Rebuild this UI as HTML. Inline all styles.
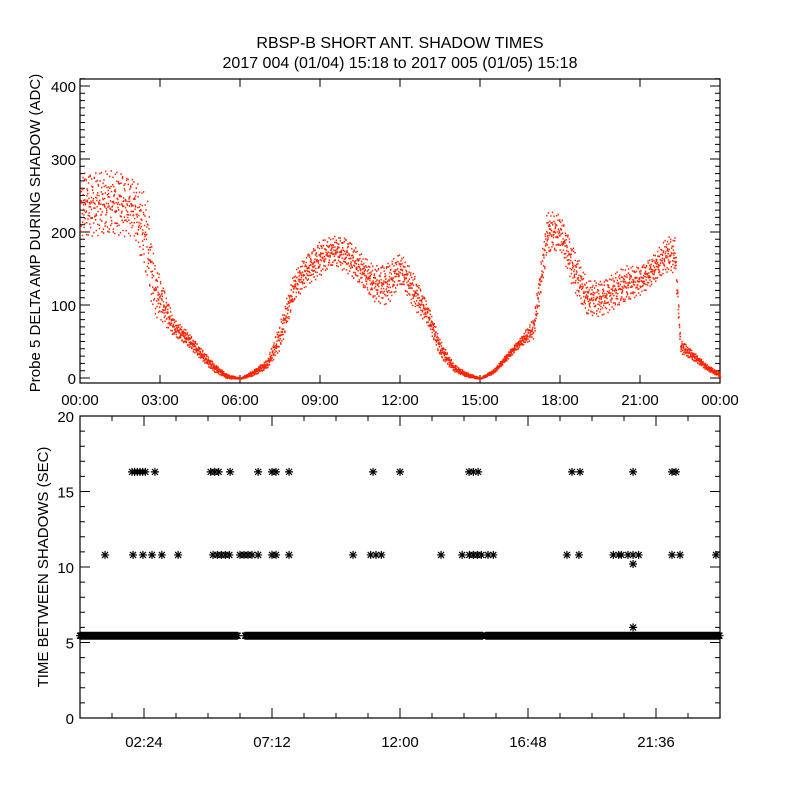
<!DOCTYPE html>
<html><head><meta charset="utf-8">
<style>
html,body{margin:0;padding:0;background:#fff;}
svg{display:block;font-family:"Liberation Sans",sans-serif;}
text{fill:#000;}
</style></head>
<body>
<svg id="chart" width="800" height="800" viewBox="0 0 800 800">
<text x="400" y="48" font-size="16" text-anchor="middle">RBSP-B SHORT ANT. SHADOW TIMES</text>
<text x="400" y="68" font-size="16" text-anchor="middle">2017 004 (01/04) 15:18 to 2017 005 (01/05) 15:18</text>
<g id="topPanel"></g>
<g id="botPanel"></g>
</svg>
<script>
// ---- top panel data (hours, ADC) ----
const ampHours = [0,0.5,1,1.5,2,2.5,2.75,3,3.5,4,4.5,5,5.5,6,6.5,7,7.5,8,8.5,9,9.5,10,10.5,11,11.5,12,12.5,13,13.5,14,14.5,15,15.5,16,16.5,17,17.5,18,18.5,19,19.5,20,20.5,21,21.5,22,22.3,22.5,23,23.5,24];
const ampCenter = [240,240,240,240,235,190,125,110,70,55,35,15,3,0,8,20,60,125,150,165,175,170,150,130,130,150,120,90,40,15,5,0,10,30,50,70,200,200,150,110,110,120,130,135,150,170,170,45,30,15,5];
const ampSpread = [45,45,45,45,40,60,40,30,12,10,8,6,3,1,4,6,20,20,22,25,20,25,22,25,30,22,25,15,12,5,3,1,3,5,6,15,30,25,30,25,25,25,25,20,20,25,25,10,6,4,3];
const amTicks = ["00:00","03:00","06:00","09:00","12:00","15:00","18:00","21:00","00:00"];
const ampYTicks = [0,100,200,300,400];

// ---- bottom panel data (hours, seconds) ----
const row16Hours = [1.95,2.05,2.15,2.25,2.35,2.45,2.81,4.9,5.05,5.2,5.63,6.68,7.2,7.35,7.84,10.99,12.0,14.59,14.75,14.93,18.45,18.75,20.74,22.2,22.35];
const row16Vals = row16Hours.map(()=>16.3);
const row11Hours = [0.94,1.99,2.36,2.7,3.07,3.68,4.99,5.15,5.3,5.45,5.6,6.0,6.15,6.3,6.45,6.68,7.2,7.35,7.84,10.24,10.9,11.1,11.3,13.54,14.33,14.6,14.75,14.9,15.05,15.3,15.5,18.26,18.71,20.0,20.2,20.3,20.55,20.74,20.95,22.2,22.5,23.85];
const row11Vals = row11Hours.map(()=>10.8);
const extraHours = [20.74,20.74];
const extraVals = [10.2,6.0];
const bandSegments = [[0,5.93],[6.19,15.12],[15.22,24]];
const bandValue = 5.45;
const botXTicks = ["02:24","07:12","12:00","16:48","21:36"];
const botYTicks = [0,5,10,15,20];

const NS="http://www.w3.org/2000/svg";
function mk(tag,attrs,parent){const e=document.createElementNS(NS,tag);for(const k in attrs)e.setAttribute(k,attrs[k]);parent.appendChild(e);return e;}
const L=80,R=720;
const xs=h=>L+h*(R-L)/24;
const yTop=v=>378-v*0.73;
const yBot=v=>718-v*15.1;
const topG=document.getElementById('topPanel'), botG=document.getElementById('botPanel');

// top frame
let f=mk('rect',{x:L,y:79,width:R-L,height:304,fill:'none',stroke:'#000','stroke-width':1.2},topG);


let tp='';
for(let v=0;v<=410;v+=10){const y=yTop(v);const len=(v%100===0)?10:5;tp+=`M${L} ${y}h${len}M${R} ${y}h${-len}`;}
for(let i=0;i<=8;i++){const x=xs(i*3);tp+=`M${x} 383v-8M${x} 79v8`;}
let tk=mk('path',{d:tp,stroke:'#000','stroke-width':1,fill:'none'},topG);


ampYTicks.forEach(v=>{const t=mk('text',{x:L-4,y:yTop(v)+6,'font-size':15,'text-anchor':'end'},topG);t.textContent=v;

});
amTicks.forEach((s,i)=>{const t=mk('text',{x:xs(i*3),y:405,'font-size':15,'text-anchor':'middle'},topG);t.textContent=s;

});
let yt=mk('text',{x:0,y:0,'font-size':15,'text-anchor':'middle',transform:'translate(40,233) rotate(-90)'},topG);
yt.textContent='Probe 5 DELTA AMP DURING SHADOW (ADC)';



// scatter
function interp(arr,h){for(let i=0;i<ampHours.length-1;i++){if(h>=ampHours[i]&&h<=ampHours[i+1]){const t=(h-ampHours[i])/(ampHours[i+1]-ampHours[i]);return arr[i]+(arr[i+1]-arr[i])*t;}}return arr[arr.length-1];}
let pd='';
for(let m=0;m<1440;m+=0.4){const h=m/60;const c=interp(ampCenter,h),s=interp(ampSpread,h);
 const off=s*Math.sin(m*12.9898)*Math.cos(m*0.731);
 const v=Math.max(0,c+off);const x=xs(h),y=yTop(v);
 pd+=`M${x.toFixed(1)} ${y.toFixed(1)}h1.4v1.6h-1.4z`;}
let sc=mk('path',{d:pd,fill:'#ff2200'},topG);



// bottom frame
let bf=mk('rect',{x:L,y:416,width:R-L,height:302,fill:'none',stroke:'#000','stroke-width':1.2},botG);


let bp='';
for(let v=0;v<=20;v++){const y=yBot(v);const len=(v%5===0)?10:5;bp+=`M${L} ${y}h${len}M${R} ${y}h${-len}`;}
for(let i=1;i<20;i++){const x=xs(i*1.2);const len=(i%4===2)?10:5;bp+=`M${x} 718v${-len}M${x} 416v${len}`;}
let bt=mk('path',{d:bp,stroke:'#000','stroke-width':1,fill:'none'},botG);


botYTicks.forEach(v=>{const t=mk('text',{x:L-6,y:yBot(v)+6,'font-size':15,'text-anchor':'end'},botG);t.textContent=v;

});
botXTicks.forEach((s,i)=>{const t=mk('text',{x:xs(2.4+i*4.8),y:747,'font-size':15,'text-anchor':'middle'},botG);t.textContent=s;

});
let by=mk('text',{x:0,y:0,'font-size':15,'text-anchor':'middle',transform:'translate(48,567) rotate(-90)'},botG);
by.textContent='TIME BETWEEN SHADOWS (SEC)';



function star(x,y){return `M${x-4} ${y}h8M${x} ${y-4}v8M${x-3} ${y-3}l6 6M${x-3} ${y+3}l6 -6`;}
let sd='';
row16Hours.forEach((h,i)=>{sd+=star(xs(h),yBot(row16Vals[i]));});
row11Hours.forEach((h,i)=>{sd+=star(xs(h),yBot(row11Vals[i]));});
extraHours.forEach((h,i)=>{sd+=star(xs(h),yBot(extraVals[i]));});
let st=mk('path',{d:sd,stroke:'#000','stroke-width':1.2,fill:'none'},botG);


let bd='';
bandSegments.forEach(([a,b])=>{for(let h=a;h<=b;h+=0.03){bd+=star(xs(h),yBot(bandValue));}});
let band=mk('path',{d:bd,stroke:'#000','stroke-width':1.2,fill:'none'},botG);


</script>
</body></html>
